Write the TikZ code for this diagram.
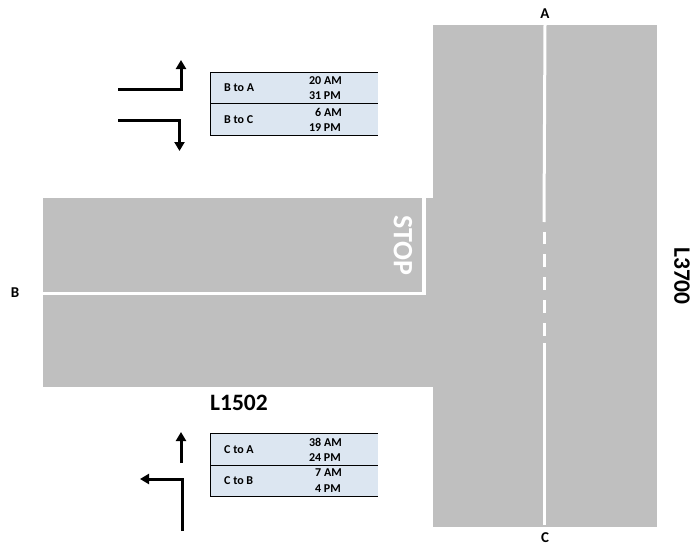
\documentclass[tikz,border=0pt]{standalone}
\usepackage{fontspec}
\setmainfont{Carlito}
\usetikzlibrary{arrows.meta}
\definecolor{road}{HTML}{BFBFBF}
\definecolor{cellblue}{HTML}{DCE6F1}
\tikzset{
  x=1pt,y=-1pt,
  roadpart/.style={fill=road,draw=none},
  paint/.style={draw=white,line width=3pt},
  turnarrow/.style={draw=black,line width=3pt,-{Triangle[length=9pt,width=10pt]}},
  celltext/.style={font=\bfseries\fontsize{12}{14}\selectfont,inner sep=0pt,text=black},
  endlabel/.style={font=\bfseries\fontsize{15}{17}\selectfont,inner sep=0pt,text=black},
  roadlabel/.style={font=\bfseries\fontsize{23.5}{26}\selectfont,inner sep=0pt,text=black},
}
\begin{document}
\begin{tikzpicture}
\useasboundingbox (0,0) rectangle (697,546);
% road
\fill[roadpart] (433,25) rectangle (657,527);
\fill[roadpart] (43,198) rectangle (433,387);
% markings
\coordinate (ctop) at (545,25);
\coordinate (cbot) at (544,525);
\coordinate (c1) at (544,222);
\coordinate (c2) at (544,343);
\draw[paint] (ctop) -- (c1);
\draw[paint] (c2) -- (cbot);
\foreach \a/\b in {232/244,254/267,277/290,300/313,323/336}
  \draw[paint] (544,\a) -- (544,\b);
\coordinate (sl1) at (43,293.5);
\coordinate (sl2) at (425,293.5);
\coordinate (sl3) at (424,198);
\draw[paint] (sl1) -- (sl2);
\draw[draw=white,line width=4pt] (sl3) -- (424,295);
\node[rotate=-90,text=white,inner sep=0pt,font=\bfseries\fontsize{28}{32}\selectfont] (stop) at (403,245) {STOP};
% labels
\node[endlabel] (A) at (545,14) {A};
\node[endlabel] (B) at (15,293) {B};
\node[endlabel] (C) at (545,538) {C};
\node[roadlabel] (L1) at (239,403) {L1502};
\node[roadlabel,rotate=-90] (L2) at (682,276) {L3700};
% upper table
\fill[cellblue] (210,72) rectangle (378,135.5);
\draw[black,line width=1pt] (210,72.5) -- (378,72.5) (210,103.5) -- (378,103.5) (210,135) -- (378,135) (210.5,72) -- (210.5,135.5);
\node[celltext,anchor=west] (ba) at (224,88) {B to A};
\node[celltext,anchor=west] (bc) at (224,119.5) {B to C};
\node[celltext,anchor=east] (t1) at (342,81) {20 AM};
\node[celltext,anchor=east] (t2) at (341,96) {31 PM};
\node[celltext,anchor=east] (t3) at (342,112) {6 AM};
\node[celltext,anchor=east] (t4) at (341,128) {19 PM};
% lower table
\fill[cellblue] (210,433) rectangle (378,496.5);
\draw[black,line width=1pt] (210,433.5) -- (378,433.5) (210,465.5) -- (378,465.5) (210,496) -- (378,496) (210.5,433) -- (210.5,496.5);
\node[celltext,anchor=west] (ca) at (224,449.5) {C to A};
\node[celltext,anchor=west] (cb) at (224,481) {C to B};
\node[celltext,anchor=east] (t5) at (342,442) {38 AM};
\node[celltext,anchor=east] (t6) at (341,458) {24 PM};
\node[celltext,anchor=east] (t7) at (342,473) {7 AM};
\node[celltext,anchor=east] (t8) at (341,489) {4 PM};
% arrows
\coordinate (a1s) at (118,89.5); \coordinate (a1m) at (181,89.5); \coordinate (a1e) at (181,60);
\coordinate (a2s) at (118,120); \coordinate (a2m) at (179.5,120); \coordinate (a2e) at (179.5,151);
\coordinate (a3s) at (181,463); \coordinate (a3e) at (181,432);
\coordinate (a4s) at (182,531); \coordinate (a4m) at (182,479); \coordinate (a4e) at (140,479);
\draw[turnarrow] (a1s) -- (a1m) -- (a1e);
\draw[turnarrow] (a2s) -- (a2m) -- (a2e);
\draw[turnarrow] (a3s) -- (a3e);
\draw[turnarrow] (a4s) -- (a4m) -- (a4e);
\end{tikzpicture}
\end{document}
